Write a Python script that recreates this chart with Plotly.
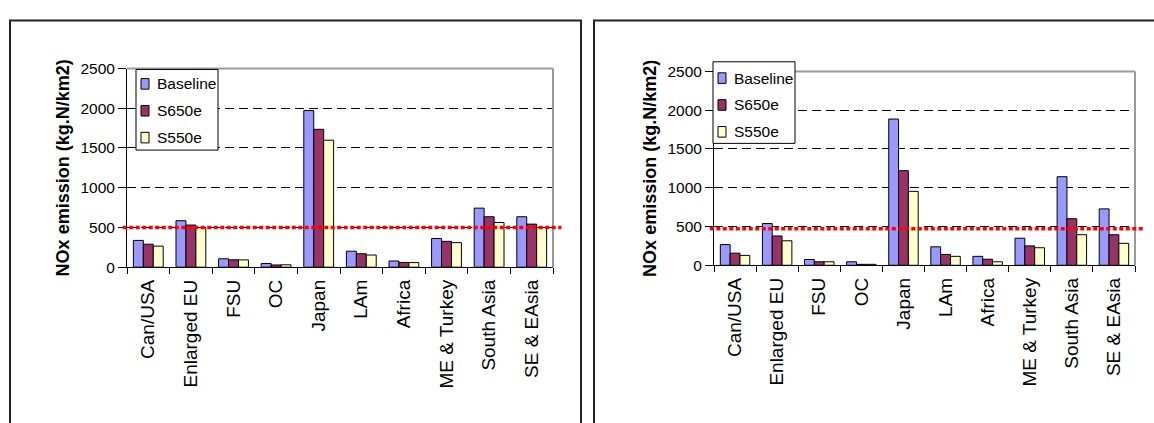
import plotly.graph_objects as go

regions = ["Can/USA", "Enlarged EU", "FSU", "OC", "Japan", "LAm", "Africa",
           "ME & Turkey", "South Asia", "SE & EAsia"]
scenarios = ["Baseline", "S650e", "S550e"]
y_ticks = [0, 500, 1000, 1500, 2000, 2500]

# left panel
left_baseline = [337, 585, 106, 46, 1971, 201, 78, 361, 743, 635]
left_s650e = [289, 530, 93, 28, 1735, 169, 60, 325, 635, 542]
left_s550e = [265, 498, 92, 30, 1598, 153, 58, 309, 562, 500]
left_threshold = 500

# right panel
right_baseline = [267, 538, 74, 45, 1885, 238, 115, 349, 1142, 727]
right_s650e = [156, 378, 45, 12, 1220, 140, 78, 250, 600, 394]
right_s550e = [127, 316, 45, 12, 953, 115, 45, 226, 394, 283]
right_threshold = 470

colors = {"Baseline": "#9999FF", "S650e": "#993366", "S550e": "#FFFFCC"}
FONT = "Arial, Liberation Sans, sans-serif"
W, H = 1154, 423

fig = go.Figure()

panels = [
    ("x", "y", [left_baseline, left_s650e, left_s550e]),
    ("x2", "y2", [right_baseline, right_s650e, right_s550e]),
]
for xa, ya, values in panels:
    for name, vals in zip(scenarios, values):
        fig.add_trace(go.Bar(
            x=regions, y=vals, name=name, xaxis=xa, yaxis=ya, showlegend=False,
            marker=dict(color=colors[name], line=dict(color="black", width=1)),
        ))


def px_x(p):
    return p / W


def px_y(p):
    return 1 - p / H


axis_x = dict(
    type="category", showgrid=False, showline=True, linecolor="black", linewidth=1,
    ticks="outside", tickson="boundaries", ticklen=6, tickcolor="black",
    ticklabelstandoff=4,
    tickangle=-90, tickfont=dict(family=FONT, size=19, color="black"),
)
axis_y = dict(
    range=[0, 2500], tickvals=y_ticks, showgrid=True, gridcolor="black",
    griddash="9px,5px", gridwidth=1, zeroline=False, showline=True,
    linecolor="black", linewidth=1, ticks="outside", ticklen=8, tickcolor="black",
    tickfont=dict(family=FONT, size=15.5, color="black"),
    title=dict(text="NOx emission (kg.N/km2)", standoff=6,
               font=dict(family=FONT, size=18, color="black", weight="bold")),
)

fig.update_layout(
    width=W, height=H, margin=dict(l=0, r=0, t=0, b=0),
    plot_bgcolor="white", paper_bgcolor="white",
    barmode="group", bargap=0.3, bargroupgap=0,
    xaxis=dict(axis_x, domain=[px_x(127), px_x(553)], anchor="y"),
    yaxis=dict(axis_y, domain=[px_y(269), px_y(62)], anchor="x"),
    xaxis2=dict(axis_x, domain=[px_x(714), px_x(1135)], anchor="y2"),
    yaxis2=dict(axis_y, domain=[px_y(267), px_y(65)], anchor="x2"),
)

# panel frames
for x0, x1 in [(10, 581), (594, 1170)]:
    fig.add_shape(type="rect", xref="paper", yref="paper",
                  x0=px_x(x0), x1=px_x(x1), y0=-0.1, y1=px_y(12),
                  line=dict(color="#222222", width=2), layer="below")

# plot-area border (top and right) in grey
for xd, yd in [("x domain", "y domain"), ("x2 domain", "y2 domain")]:
    fig.add_shape(type="line", xref=xd, yref=yd, x0=0, x1=1, y0=1, y1=1,
                  line=dict(color="#999999", width=2))
    fig.add_shape(type="line", xref=xd, yref=yd, x0=1, x1=1, y0=0, y1=1,
                  line=dict(color="#999999", width=2))

# red threshold lines
for xd, ya, thr in [("x domain", "y", left_threshold), ("x2 domain", "y2", right_threshold)]:
    fig.add_shape(type="line", xref=xd, yref=ya, x0=-0.01, x1=1.02, y0=thr, y1=thr,
                  line=dict(color="red", width=3.5, dash="4px,2.5px"))

# Excel-style legend boxes (box left, top, right, bottom; first row centre, row step)
legend_boxes = [(136, 63, 218, 147, 78, 28), (713, 55, 795, 140, 72, 28)]
for bx0, by0, bx1, by1, row0, step in legend_boxes:
    fig.add_shape(type="rect", xref="paper", yref="paper",
                  x0=px_x(bx0), x1=px_x(bx1), y0=px_y(by1), y1=px_y(by0),
                  fillcolor="white", line=dict(color="black", width=1))
    for i, name in enumerate(scenarios):
        cy = row0 + i * step
        fig.add_shape(type="rect", xref="paper", yref="paper",
                      x0=px_x(bx0 + 5), x1=px_x(bx0 + 13),
                      y0=px_y(cy + 5.5), y1=px_y(cy - 5.5),
                      fillcolor=colors[name], line=dict(color="black", width=1))
        fig.add_annotation(xref="paper", yref="paper", x=px_x(bx0 + 19), y=px_y(cy),
                           text=name, showarrow=False, xanchor="left", yanchor="middle",
                           font=dict(family=FONT, size=15.5, color="black"))

fig.write_html("out.html", config={"displayModeBar": False},
               post_script="document.body.style.margin='0';")
